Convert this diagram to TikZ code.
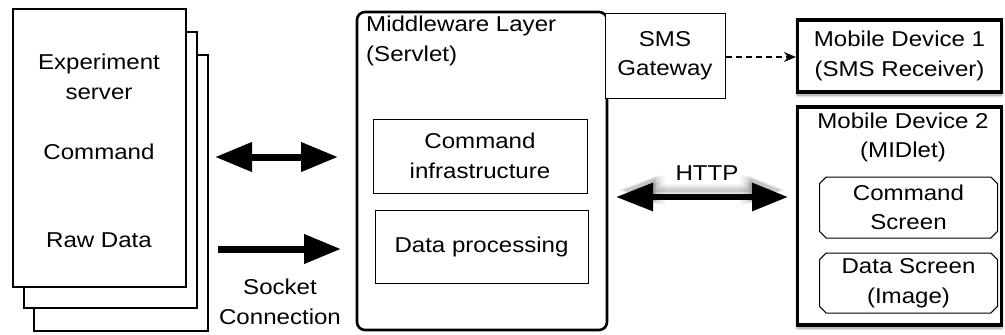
\documentclass[tikz,border=0pt]{standalone}
\usepackage{fontspec}
\setmainfont{Liberation Sans}[FakeStretch=1.12]
\usetikzlibrary{arrows.meta,shapes.misc,shadows.blur}

\tikzset{
  lbl/.style={font=\fontsize{21.5}{29.5}\selectfont, align=center, inner sep=0pt},
  page/.style={draw, line width=2.6pt, fill=white},
  inner/.style={draw, line width=1pt, fill=white},
  device/.style={draw, line width=3.2pt, fill=white,
    blur shadow={shadow xshift=0pt, shadow yshift=-3pt, shadow blur steps=6, shadow blur radius=3pt, shadow opacity=45}},
  screen/.style={draw, line width=1pt, chamfered rectangle, chamfered rectangle xsep=9pt, chamfered rectangle ysep=9pt},
  bigarrow/.style={line width=7pt, -{Triangle[length=37pt,width=28pt]}},
  bigdouble/.style={line width=7pt, {Triangle[length=37pt,width=28pt]}-{Triangle[length=37pt,width=28pt]}},
  httparrow/.style={line width=6pt, {Triangle[length=37pt,width=27pt]}-{Triangle[length=36pt,width=27pt]}},
}

\begin{document}
\begin{tikzpicture}[x=1pt,y=-1pt]
\useasboundingbox (0,0) rectangle (1005,335);

% stacked experiment server pages
\draw[page] (34,55) rectangle (208,331);
\draw[page] (24,32) rectangle (197,308);
\draw[page] (13,9) rectangle (186,287);
\node[lbl] (exp) at (99,77) {Experiment\\server};
\node[lbl] (cmd) at (99,152) {Command};
\node[lbl] (raw) at (99,240) {Raw Data};

% middleware layer
\draw[line width=2.6pt, rounded corners=8pt] (357,12) rectangle (607,330);
\node[lbl, align=left, anchor=north west] (mw) at (366,16) {Middleware Layer\\(Servlet)};
\node[inner, minimum width=214pt, minimum height=74pt] (ci) at (480,156) {};
\node[lbl] at (ci) {Command\\infrastructure};
\node[inner, minimum width=213pt, minimum height=73pt] (dp) at (481.5,246.5) {};
\node[lbl] at (dp) {Data processing};

% sms gateway
\node[inner, minimum width=120pt, minimum height=85pt] (sms) at (665,55.5) {};
\node[lbl] at (sms) {SMS\\Gateway};

% mobile devices
\node[device, minimum width=204pt, minimum height=72pt] (md1) at (899.5,56) {};
\node[lbl] at (md1) {Mobile Device 1\\(SMS Receiver)};
\node[device, minimum width=204pt, minimum height=218pt] (md2) at (899.5,216) {};
\node[lbl] at (903,137.5) {Mobile Device 2\\(MIDlet)};
\node[screen, minimum width=178pt, minimum height=61pt] (cs) at (908.5,207.5) {};
\node[lbl] at (cs) {Command\\Screen};
\node[screen, minimum width=178pt, minimum height=60pt] (ds) at (908.5,283) {};
\node[lbl] at (ds) {Data Screen\\(Image)};

% socket connection arrows
\coordinate (a1) at (215,157);
\coordinate (a2) at (338,157);
\draw[bigdouble] (a1) -- (a2);
\coordinate (b1) at (218,249);
\coordinate (b2) at (341,249);
\draw[bigarrow] (b1) -- (b2);
\node[lbl] (sock) at (280,302) {Socket\\Connection};

% sms notification
\draw[line width=1.2pt, dash pattern=on 6pt off 4pt, -{Stealth[length=12pt,width=10pt,inset=4pt]}] (sms.east |- 0,57) -- (md1.west |- 0,57);

% http link with soft shadow
\coordinate (h1) at (616,197);
\coordinate (h2) at (788,197);
\foreach \w/\o in {12/0.04,9/0.05,6/0.06,3/0.08}{
  \draw[httparrow, opacity=\o, line width=\w pt, shorten <=\w pt, shorten >=\w pt]
    ([yshift=7pt]h1) -- ([yshift=7pt]h2);
}
\draw[httparrow] (h1) -- (h2);
\node[lbl] (http) at (707,173) {HTTP};
\end{tikzpicture}
\end{document}
